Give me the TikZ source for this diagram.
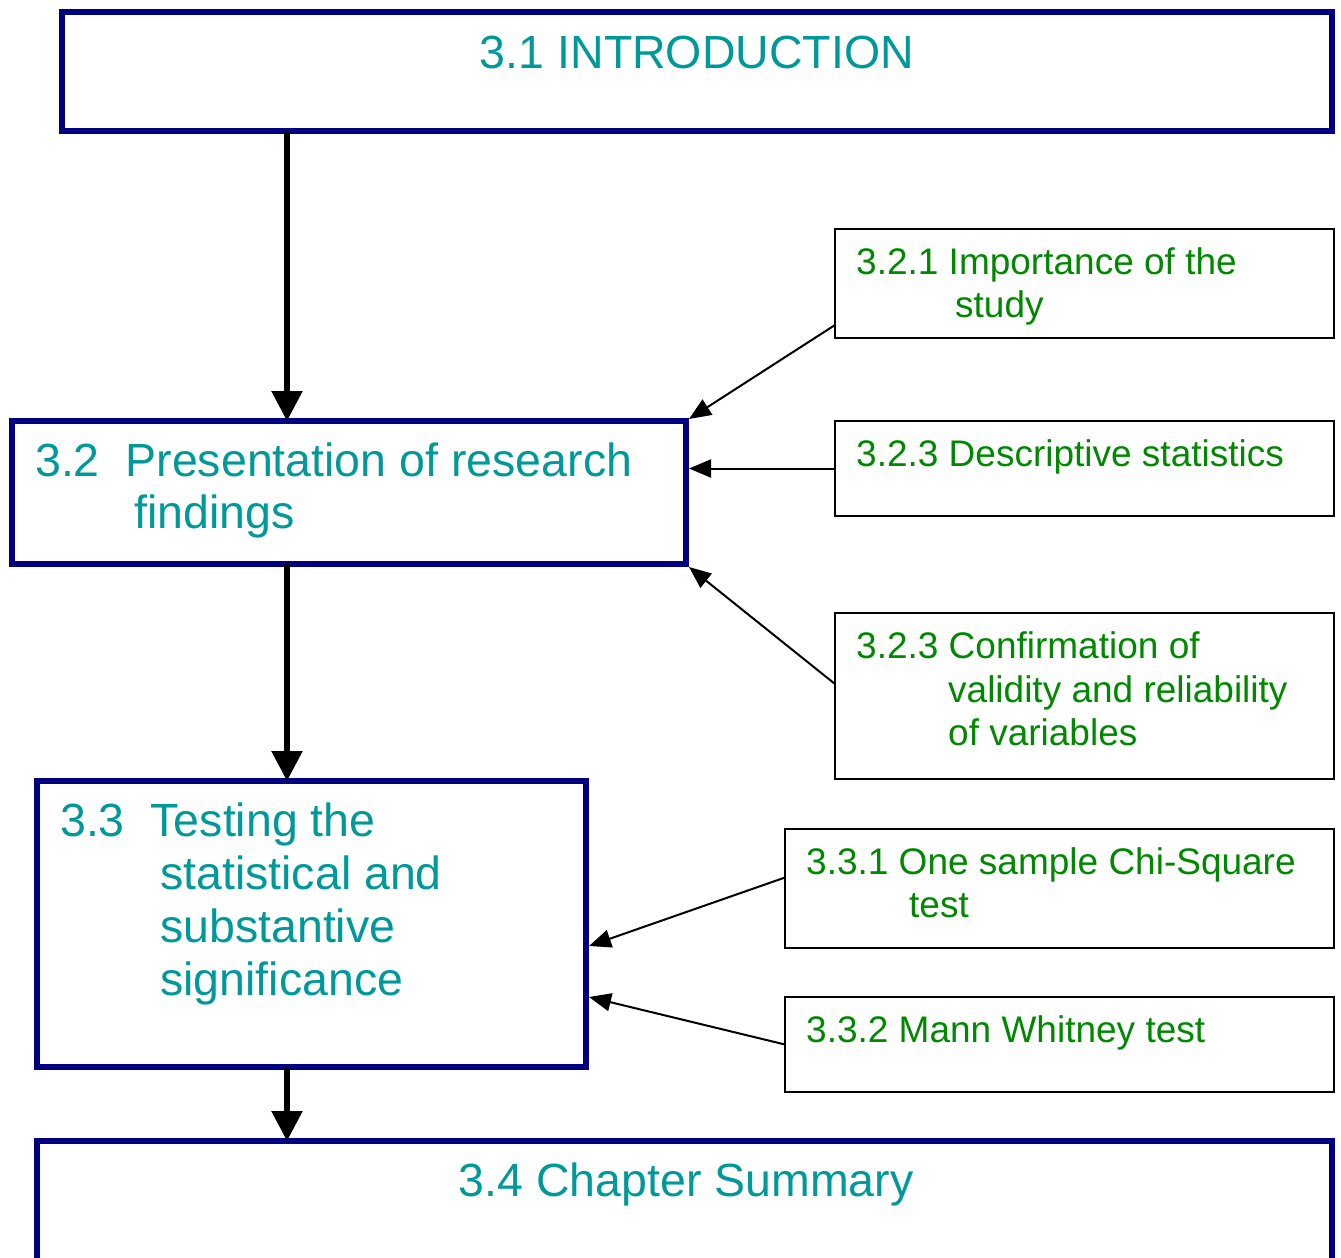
\documentclass[tikz,border=0pt]{standalone}
\usepackage{fontspec}
\setmainfont{Liberation Sans}
\usetikzlibrary{arrows.meta,calc}
\definecolor{navyline}{RGB}{0,0,128}
\definecolor{tealtext}{RGB}{0,153,153}
\definecolor{greentext}{RGB}{0,136,0}
\begin{document}
\begin{tikzpicture}[x=1pt,y=-1pt,
  mainbox/.style={draw=navyline,line width=6pt,rectangle,anchor=north west,inner sep=0pt,outer sep=0pt},
  subbox/.style={draw=black,line width=1.8pt,rectangle,anchor=north west,inner sep=0pt,outer sep=0pt},
  maintext/.style={anchor=base west,inner sep=0pt,text=tealtext,font=\fontsize{46.5}{52}\selectfont},
  subtext/.style={anchor=base west,inner sep=0pt,text=greentext,font=\fontsize{37}{43}\selectfont},
  flow/.style={draw=black,line width=5.5pt,-{Triangle[length=30pt,width=30pt]}},
  feed/.style={draw=black,line width=2pt,-{Triangle[length=22pt,width=18pt]}}]
\useasboundingbox[fill=white] (0,0) rectangle (1341,1258);

% main chapter boxes
\node[mainbox,minimum width=1270pt,minimum height=119pt] (intro) at (62,12) {};
\node[mainbox,minimum width=674pt,minimum height=143pt] (b32) at (12,421) {};
\node[mainbox,minimum width=549pt,minimum height=286pt] (b33) at (37,781) {};
\node[mainbox,minimum width=1295pt,minimum height=140pt] (b34) at (37,1141) {};

% subsection boxes
\node[subbox,minimum width=499pt,minimum height=109pt] (s321) at (835,229) {};
\node[subbox,minimum width=499pt,minimum height=95pt] (s323a) at (835,421) {};
\node[subbox,minimum width=499pt,minimum height=166pt] (s323b) at (835,613) {};
\node[subbox,minimum width=549pt,minimum height=119pt] (s331) at (785,829) {};
\node[subbox,minimum width=549pt,minimum height=95pt] (s332) at (785,997) {};

% main texts
\node[maintext,anchor=base] (t31) at (697,68) {3.1 INTRODUCTION};
\node[maintext] (t32a) at (35,476) {3.2\ \ Presentation of research};
\node[maintext] (t32b) at (134,528) {findings};
\node[maintext] (t33a) at (60,836) {3.3\ \ Testing the};
\node[maintext] (t33b) at (160,889) {statistical and};
\node[maintext] (t33c) at (160,942) {substantive};
\node[maintext] (t33d) at (160,995) {significance};
\node[maintext,anchor=base] (t34) at (686,1196) {3.4 Chapter Summary};

% subsection texts
\node[subtext] (u321a) at (856,274) {3.2.1 Importance of the};
\node[subtext] (u321b) at (955,317) {study};
\node[subtext] (u323a) at (856,466) {3.2.3 Descriptive statistics};
\node[subtext] (u323b) at (856,658) {3.2.3 Confirmation of};
\node[subtext] (u323c) at (948,702) {validity and reliability};
\node[subtext] (u323d) at (948,745) {of variables};
\node[subtext] (u331a) at (806,874) {3.3.1 One sample Chi-Square};
\node[subtext] (u331b) at (909,917) {test};
\node[subtext] (u332) at (806,1042) {3.3.2 Mann Whitney test};

% main flow down the left spine
\coordinate (spine) at (287,0);
\draw[flow] (intro.south -| spine) -- (b32.north -| spine);
\draw[flow] (b32.south -| spine) -- (b33.north -| spine);
\draw[flow] (b33.south -| spine) -- (b34.north -| spine);

% subsections feeding their sections
\draw[feed] ($(s321.south west)+(0,-13)$) -- ($(b32.north east)+(3,-2)$);
\draw[feed] (s323a.west) -- ($(b32.east |- s323a.west)+(3,0)$);
\draw[feed] ($(s323b.west)+(0,-12)$) -- ($(b32.south east)+(3,3)$);
\draw[feed] ($(s331.west)+(0,-11)$) -- ($(b33.east)+(3,22)$);
\draw[feed] (s332.west) -- ($(b33.east)+(3,73)$);
\end{tikzpicture}
\end{document}
